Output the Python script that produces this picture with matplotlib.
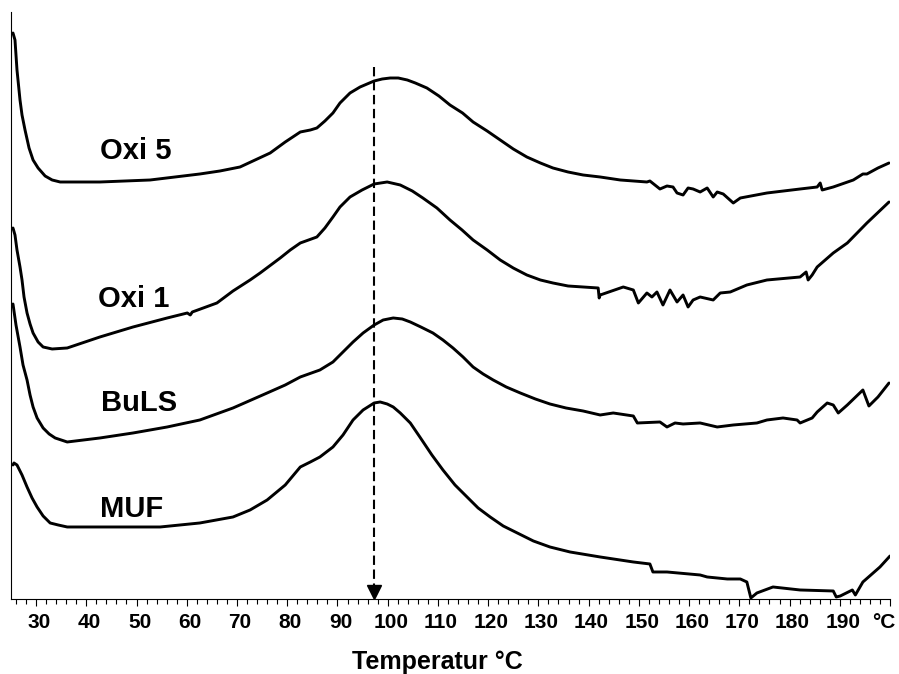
import numpy as np
import matplotlib
matplotlib.use('Agg')
import matplotlib.pyplot as plt
import matplotlib.transforms as mtransforms
from matplotlib.ticker import MultipleLocator

plt.rcParams['font.family'] = ['Liberation Sans', 'DejaVu Sans']
plt.rcParams['font.weight'] = 'bold'

# DSC traces, temperature (°C) vs heat flow (arbitrary units, offset curves)
oxi5_T = [25.4, 25.8, 26.2, 26.8, 27.2, 27.8, 28.6, 29.4, 30.4, 31.8, 33.2, 34.8, 42.7, 52.7,
          62.6, 66.6, 70.6, 73.6, 76.6, 79.6, 82.6, 84.6, 85.9, 87.5, 89.1, 90.5, 92.5, 94.5,
          97.3, 98.9, 100.5, 102.1, 103.9, 105.5, 107.8, 110.2, 112.4, 114.9, 117.0, 119.8,
          122.4, 125.0, 127.7, 130.4, 132.9, 135.9, 138.9,
          142.3, 146.3, 151.6, 152.2, 154.2, 155.6, 156.8, 157.6, 158.8, 159.8, 160.8, 162.2,
          163.6, 164.8, 165.6, 166.8, 168.8, 170.2, 175.5, 182.1, 185.5, 186.1, 186.5, 188.7,
          192.7, 194.6, 195.4, 197.6, 199.8]
oxi5_S = [567, 560, 530, 500, 485, 470, 452, 440, 432, 424, 420, 418, 418, 420,
          426, 429, 433, 440, 447, 458, 468, 470, 472, 479, 487, 497, 507, 513,
          519, 521, 522, 522, 520, 517, 512, 504, 495, 487, 478, 469,
          460, 451, 443, 437, 432, 428, 425,
          423, 420, 418, 419, 411, 414, 413, 407, 405, 412, 411, 408,
          412, 403, 408, 406, 397, 402, 407, 411, 413, 417, 410, 413,
          420, 426, 426, 432, 437]

oxi1_T = [25.4, 25.8, 26.2, 26.8, 27.2, 27.6, 28.2, 28.8, 29.4, 30.4, 31.4, 33.2, 36.2, 42.7,
          49.3, 56.1, 60.1, 60.7, 61.1, 66.0, 69.2, 72.6, 74.6, 78.6, 80.6, 82.6, 85.9, 87.5,
          89.1, 90.5, 92.5, 94.9, 97.3, 99.9, 102.5, 104.9, 107.0, 109.8, 112.4, 114.8, 117.0,
          119.8, 122.4, 125.0, 127.7, 130.4, 132.9, 135.9, 138.9, 141.9, 142.1, 142.3, 146.9,
          148.9, 149.9, 151.6, 152.6, 153.6, 154.8, 156.2, 157.6, 158.8, 159.8, 160.8, 162.2,
          164.8, 166.2, 168.2, 171.5, 175.5, 182.1, 183.3, 183.7, 184.5, 185.5, 188.7, 191.5,
          195.4, 199.8]
oxi1_S = [372, 365, 350, 333, 320, 303, 287, 276, 267, 258, 253, 251, 252, 263,
          273, 282, 287, 285, 288, 297, 309, 320, 327, 342, 350, 357, 363, 372,
          383, 393, 403, 410, 416, 418, 415, 409, 402, 392, 380, 370, 360,
          350, 340, 332, 325, 320, 317, 314, 313, 312, 302, 305, 313,
          310, 297, 307, 303, 308, 295, 310, 298, 305, 293, 300, 303,
          300, 307, 308, 315, 320, 323, 328, 320, 325, 333, 347, 357,
          377, 398]

buls_T = [25.4, 26.0, 26.8, 27.4, 28.2, 28.8, 29.4, 30.2, 31.4, 32.6, 33.8, 36.2, 42.7, 49.3,
          56.1, 62.6, 69.2, 76.0, 79.6, 82.6, 86.5, 89.1, 91.1, 93.1, 95.1, 97.3, 99.1, 101.1,
          102.9, 104.5, 106.6, 109.0, 111.0, 113.0, 115.0, 117.0, 119.0, 121.0, 123.6, 126.4,
          129.4, 132.3, 135.5, 138.9, 142.3, 144.9, 148.9, 149.7, 154.2, 155.6, 157.2, 158.8,
          162.2, 165.6, 168.8, 173.5, 175.5, 178.7, 181.5, 182.1, 184.5, 185.5, 187.5, 188.7,
          189.7, 191.5, 194.6, 195.8, 197.6, 199.8]
buls_S = [296, 275, 253, 235, 220, 205, 193, 182, 172, 166, 162, 158, 162, 167,
          173, 180, 192, 207, 215, 223, 230, 238, 248, 258, 267, 275, 280, 282,
          281, 278, 273, 267, 260, 252, 243, 233, 226, 220, 213, 207,
          201, 196, 192, 189, 185, 187, 184, 177, 178, 173, 177, 176,
          177, 173, 175, 177, 180, 182, 180, 177, 182, 188, 197, 195,
          187, 195, 210, 194, 203, 217]

muf_T = [25.4, 25.6, 26.2, 27.2, 28.2, 29.2, 30.2, 31.4, 32.8, 34.4, 36.2, 42.7, 54.7, 62.6,
         69.2, 72.6, 76.0, 79.6, 82.6, 84.6, 86.5, 89.1, 91.1, 93.1, 95.1, 97.3, 98.5, 99.9,
         101.1, 102.5, 104.5, 106.4, 108.8, 111.0, 113.4, 115.8, 118.0, 120.4, 123.0, 125.8,
         129.0, 132.3, 136.3, 142.3, 148.9, 152.2, 152.8, 155.6, 162.2, 163.6, 167.6, 170.2,
         171.5, 172.3, 173.5, 176.7, 182.1, 188.7, 189.3, 190.1, 192.5, 193.1, 194.6, 198.0,
         200.0]
muf_S = [135, 137, 135, 125, 113, 102, 93, 84, 77, 75, 73, 73, 73, 77,
         83, 90, 100, 115, 133, 138, 143, 153, 165, 180, 190, 197, 198, 196,
         193, 187, 177, 163, 145, 130, 115, 103, 92, 83, 74, 67,
         59, 53, 48, 43, 38, 36, 28, 28, 25, 23, 21, 21,
         18, 2, 7, 13, 10, 9, 3, 4, 10, 5, 18, 33,
         44]

series_names = ['Oxi 5', 'Oxi 1', 'BuLS', 'MUF']
label_T = [42.7, 42.3, 43.0, 42.7]
label_S = [449, 301, 197, 91]

peak_T = 97.3
tick_values = list(range(30, 201, 10))
tick_labels = [str(v) for v in range(30, 191, 10)] + ['°C']

fig = plt.figure(figsize=(8.99, 6.74), dpi=100)
ax = fig.add_axes([0.0122, 0.1113, 0.9778, 0.8709])

for T, S in [(oxi5_T, oxi5_S), (oxi1_T, oxi1_S), (buls_T, buls_S), (muf_T, muf_S)]:
    ax.plot(T, S, color='black', lw=2.1, solid_joinstyle='round', solid_capstyle='round')

for name, tx, sy in zip(series_names, label_T, label_S):
    ax.text(tx, sy, name, fontsize=21, fontweight='bold', ha='left', va='center')

# dashed marker of the MUF peak temperature with arrow head
ax.plot([peak_T, peak_T], [533, 14], color='black', lw=1.5, ls=(0, (4.5, 2.2)))
ax.plot([peak_T], [8], marker='v', color='black', markersize=9.5, lw=0)

ax.set_xlim(25, 200)
ax.set_ylim(1, 588)
ax.set_xticks(tick_values)
ax.set_xticklabels(tick_labels, fontsize=15, fontweight='bold')
ax.xaxis.set_minor_locator(MultipleLocator(2))
ax.tick_params(axis='x', which='major', direction='out', length=5, width=0.8, pad=5)
ax.tick_params(axis='x', which='minor', direction='out', length=3.5, width=0.8)
ax.set_yticks([])
for side in ['top', 'right']:
    ax.spines[side].set_visible(False)
for side in ['left', 'bottom']:
    ax.spines[side].set_linewidth(0.8)

# labels sit a little right of their ticks; the last one is pulled in
shift = mtransforms.ScaledTranslation(3 / 100, 0, fig.dpi_scale_trans)
for lab in ax.get_xticklabels():
    lab.set_transform(lab.get_transform() + shift)
last = mtransforms.ScaledTranslation(-9 / 100, 0, fig.dpi_scale_trans)
ax.get_xticklabels()[-1].set_transform(ax.get_xticklabels()[-1].get_transform() + last)

ax.set_xlabel('Temperatur °C', fontsize=18, fontweight='bold')
ax.xaxis.set_label_coords(0.485, -0.087)

fig.savefig('out.png', dpi=100)
